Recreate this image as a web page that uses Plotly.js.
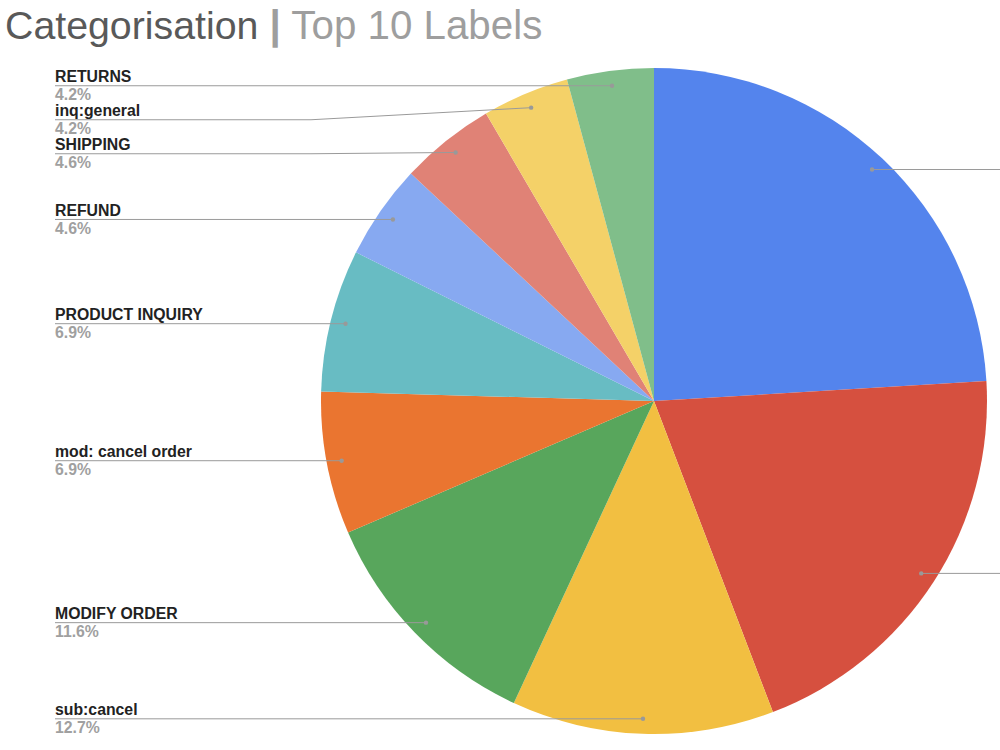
<!DOCTYPE html>
<html>
<head>
<meta charset="utf-8">
<script src="https://cdn.plot.ly/plotly-3.0.1.min.js"></script>
<style>html,body{margin:0;padding:0;background:#fff;}#chart{width:1000px;height:750px;}</style>
</head>
<body>
<div id="chart"></div>
<script>
// ---- data (slices clockwise from 12 o'clock) ----
// The two largest slices have their labels cropped off the right edge of the reference.
const categories = ["(label cropped)", "(label cropped) ", "sub:cancel", "MODIFY ORDER", "mod: cancel order",
                    "PRODUCT INQUIRY", "REFUND", "SHIPPING", "inq:general", "RETURNS"];
const shares = [24.0, 20.1, 12.7, 11.6, 6.9, 6.9, 4.6, 4.6, 4.2, 4.2];
const showLabel = [false, false, true, true, true, true, true, true, true, true];
const sliceColors = ["#5484ed", "#d6503f", "#f2bf41", "#58a65c", "#ea7530",
                     "#68bcc3", "#87a9f1", "#e08276", "#f4d168", "#80be8a"];

// ---- layout constants ----
const W = 1000, H = 750;
const pieDomain = {x: [0.321, 0.987], y: [1 - 734 / 750, 1 - 68 / 750]};
const cx = (pieDomain.x[0] + pieDomain.x[1]) / 2 * W;
const cy = (1 - (pieDomain.y[0] + pieDomain.y[1]) / 2) * H;
const R = Math.min((pieDomain.x[1] - pieDomain.x[0]) * W, (pieDomain.y[1] - pieDomain.y[0]) * H) / 2;
const dotFrac = 0.955, labelX = 55, minGap = 34, lineColor = "#9a9a9a";
const px = x => x / W, py = y => 1 - y / H;

const total = shares.reduce((a, b) => a + b, 0);
let cum = 0;
const dots = shares.map((v, i) => {
  const mid = (cum + v / 2) / total * 2 * Math.PI; cum += v;
  return {i, x: cx + dotFrac * R * Math.sin(mid), y: cy - dotFrac * R * Math.cos(mid)};
});

const shapes = [], annotations = [];
const labelFont = "Liberation Sans, Arial, sans-serif";
// left-side labels: place at dot height, pushing down to avoid overlap
const left = dots.filter(d => d.x < cx).sort((a, b) => a.y - b.y);
let prevY = -1e9;
left.forEach(d => {
  const ly = Math.max(d.y, prevY + minGap); prevY = ly;
  const bendX = cx - R - 10;
  shapes.push({type: "path", xref: "paper", yref: "paper",
    path: `M ${px(labelX)},${py(ly)} L ${px(bendX)},${py(ly)} L ${px(d.x)},${py(d.y)}`,
    line: {color: lineColor, width: 1}});
  if (showLabel[d.i]) {
    annotations.push({xref: "paper", yref: "paper", x: px(labelX - 1), y: py(ly + 0.5), xanchor: "left", yanchor: "bottom",
      text: "<b>" + categories[d.i] + "</b>", showarrow: false, borderpad: 0,
      font: {family: labelFont, size: 15.8, color: "#222222"}});
    annotations.push({xref: "paper", yref: "paper", x: px(labelX - 1), y: py(ly - 0.5), xanchor: "left", yanchor: "top",
      text: "<b>" + shares[d.i].toFixed(1) + "%</b>", showarrow: false, borderpad: 0,
      font: {family: labelFont, size: 15.8, color: "#a0a0a0"}});
  }
});
// right-side leader lines run off the cropped edge
dots.filter(d => d.x >= cx).forEach(d => {
  shapes.push({type: "line", xref: "paper", yref: "paper", x0: px(d.x), y0: py(d.y), x1: 1.05, y1: py(d.y),
    line: {color: lineColor, width: 1}});
});
dots.forEach(d => {
  shapes.push({type: "circle", xref: "paper", yref: "paper", x0: px(d.x - 2.2), x1: px(d.x + 2.2),
    y0: py(d.y + 2.2), y1: py(d.y - 2.2), fillcolor: "#999999", line: {width: 0}});
});

const trace = {
  type: "pie", labels: categories, values: shares, sort: false, direction: "clockwise", rotation: 0,
  marker: {colors: sliceColors, line: {width: 0}}, textinfo: "none", textposition: "none",
  hoverinfo: "label+percent", domain: pieDomain
};

const layout = {
  width: W, height: H, margin: {l: 0, r: 0, t: 0, b: 0},
  paper_bgcolor: "#ffffff", showlegend: false,
  title: {text: '<span style="color:#595959;font-size:39.3px">Categorisation</span> <b>|</b> Top 10 Labels',
    font: {family: "Liberation Sans, Arial, sans-serif", size: 40.3, color: "#9e9e9e"},
    x: 0.005, xanchor: "left", xref: "container", y: 1 - 25 / 750, yanchor: "middle", yref: "container"},
  shapes, annotations
};

Plotly.newPlot("chart", [trace], layout, {displayModeBar: false, staticPlot: true});
</script>
</body>
</html>
